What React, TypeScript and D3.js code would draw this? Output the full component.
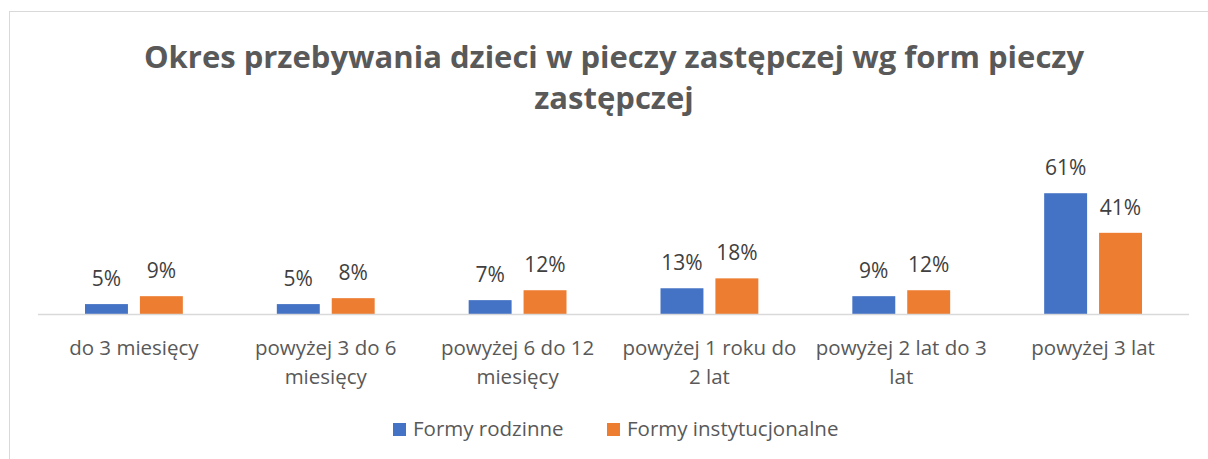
import * as d3 from "d3";

const categories = [
  "do 3 miesięcy",
  "powyżej 3 do 6\nmiesięcy",
  "powyżej 6 do 12\nmiesięcy",
  "powyżej 1 roku do\n2 lat",
  "powyżej 2 lat do 3\nlat",
  "powyżej 3 lat",
];
const seriesNames = ["Formy rodzinne", "Formy instytucjonalne"];
const rodzinne = [0.05, 0.05, 0.07, 0.13, 0.09, 0.61];
const instytucjonalne = [0.09, 0.08, 0.12, 0.18, 0.12, 0.41];
const titleLines = [
  "Okres przebywania dzieci w pieczy zastępczej wg form pieczy",
  "zastępczej",
];

const colors = ["#4472C4", "#ED7D31"];
const font = "'Open Sans', sans-serif";

const App = () => {
  const width = 1208;
  const height = 459;
  const left = 38;
  const right = 1189;
  const baseY = 314;

  const x0 = d3
    .scaleBand()
    .domain(categories)
    .range([left, right])
    .paddingInner(0.49)
    .paddingOuter(0.245);

  const x1 = d3
    .scaleBand()
    .domain(seriesNames)
    .range([0, x0.bandwidth()])
    .paddingInner(0.218);

  const y = d3.scaleLinear().domain([0, 0.7]).range([baseY, baseY - 138.6]);

  const series = [rodzinne, instytucjonalne];
  const fmt = d3.format(".0%");

  return (
    <svg
      width={width}
      height={height}
      style={{ position: "absolute", left: 0, top: 0, background: "#fff" }}
    >
      <rect x={9.5} y={11.5} width={1300} height={600} fill="#fff" stroke="#d9d9d9" />

      {titleLines.map((t, i) => (
        <text
          key={i}
          x={614}
          y={68 + i * 41}
          textAnchor="middle"
          fontFamily={font}
          fontWeight="bold"
          fontSize={31}
          fill="#595959"
        >
          {t}
        </text>
      ))}

      {series.map((vals, si) =>
        vals.map((v, ci) => {
          const bx = (x0(categories[ci]) ?? 0) + (x1(seriesNames[si]) ?? 0);
          return (
            <g key={`${si}-${ci}`}>
              <rect
                x={bx}
                y={y(v)}
                width={x1.bandwidth()}
                height={baseY - y(v)}
                fill={colors[si]}
              />
              <text
                x={bx + x1.bandwidth() / 2}
                y={y(v) - 18}
                textAnchor="middle"
                fontFamily={font}
                fontSize={21}
                fill="#404040"
              >
                {fmt(v)}
              </text>
            </g>
          );
        })
      )}

      <line x1={left} x2={right} y1={baseY + 0.5} y2={baseY + 0.5} stroke="#d9d9d9" strokeWidth={1.5} />

      {categories.map((c) => {
        const cx = (x0(c) ?? 0) + x0.bandwidth() / 2;
        return (
          <text
            key={c}
            textAnchor="middle"
            fontFamily={font}
            fontSize={20.5}
            fill="#595959"
          >
            {c.split("\n").map((line, li) => (
              <tspan key={li} x={cx} y={355 + li * 29}>
                {line}
              </tspan>
            ))}
          </text>
        );
      })}

      {seriesNames.map((s, i) => {
        const lx = [393, 607][i];
        return (
          <g key={s}>
            <rect x={lx} y={423} width={13} height={13} fill={colors[i]} />
            <text x={lx + 20} y={436} fontFamily={font} fontSize={20.5} fill="#595959">
              {s}
            </text>
          </g>
        );
      })}
    </svg>
  );
};

export default App;
